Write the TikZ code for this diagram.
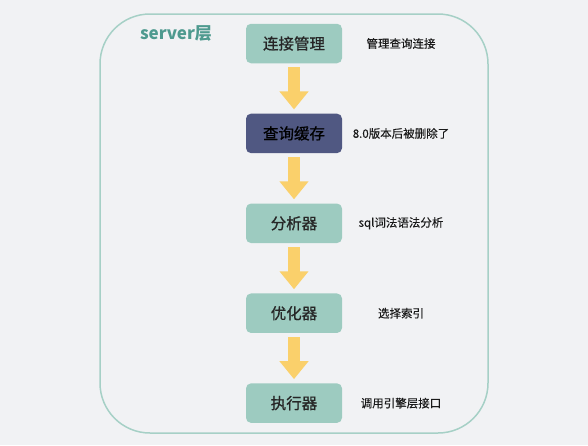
\documentclass[tikz,border=0pt]{standalone}
\usepackage{fontspec}
\setmainfont{Noto Sans CJK SC}
\newfontfamily\stagefont[FakeBold=0.8]{Noto Sans CJK SC}
\newfontfamily\notefont[FakeBold=0.3]{Noto Sans CJK SC}
\usetikzlibrary{positioning,arrows.meta}

\definecolor{pagebg}{HTML}{F1F2F4}
\definecolor{framecol}{HTML}{A6D0C6}
\definecolor{stagecol}{HTML}{9DCBC0}
\definecolor{cachecol}{HTML}{505882}
\definecolor{flowcol}{HTML}{FAD06B}
\definecolor{titlecol}{HTML}{4E9A8F}

\begin{document}
\begin{tikzpicture}[
      x=1pt, y=-1pt,
      node distance=50pt,
      stage/.style={fill=stagecol, rounded corners=5pt, minimum width=96pt,
        minimum height=39.5pt, font=\stagefont\fontsize{15.5}{18}\selectfont, text=black!85},
      cache/.style={stage, fill=cachecol, text=black},
      note/.style={font=\notefont\fontsize{11.5}{14}\selectfont, text=black!90},
      flow/.style={draw=flowcol, line width=12pt, shorten <=4pt, shorten >=4pt,
        -{Triangle[width=28pt, length=18pt]}},
  ]
    \fill[pagebg] (0,0) rectangle (588,445);
    \useasboundingbox (0,0) rectangle (588,445);
    \draw[framecol, line width=1.5pt, rounded corners=50pt] (100,14) rectangle (488,433);
    \node[text=titlecol, font=\bfseries\fontsize{17}{20}\selectfont] (title) at (176,33) {server层};

    \node[stage] (conn) at (294,43.5) {连接管理};
    \node[cache, below=of conn] (cache) {查询缓存};
    \node[stage, below=of cache] (parser) {分析器};
    \node[stage, below=of parser] (optimizer) {优化器};
    \node[stage, below=of optimizer] (executor) {执行器};

    \node[note] (connnote) at ([xshift=107pt]conn.center) {管理查询连接};
    \node[note] (cachenote) at ([xshift=107pt]cache.center) {8.0版本后被删除了};
    \node[note] (parsernote) at ([xshift=107pt]parser.center) {sql词法语法分析};
    \node[note] (optimizernote) at ([xshift=107pt]optimizer.center) {选择索引};
    \node[note] (executornote) at ([xshift=107pt]executor.center) {调用引擎层接口};

    \draw[flow] (conn) -- (cache);
    \draw[flow] (cache) -- (parser);
    \draw[flow] (parser) -- (optimizer);
    \draw[flow] (optimizer) -- (executor);
\end{tikzpicture}
\end{document}
